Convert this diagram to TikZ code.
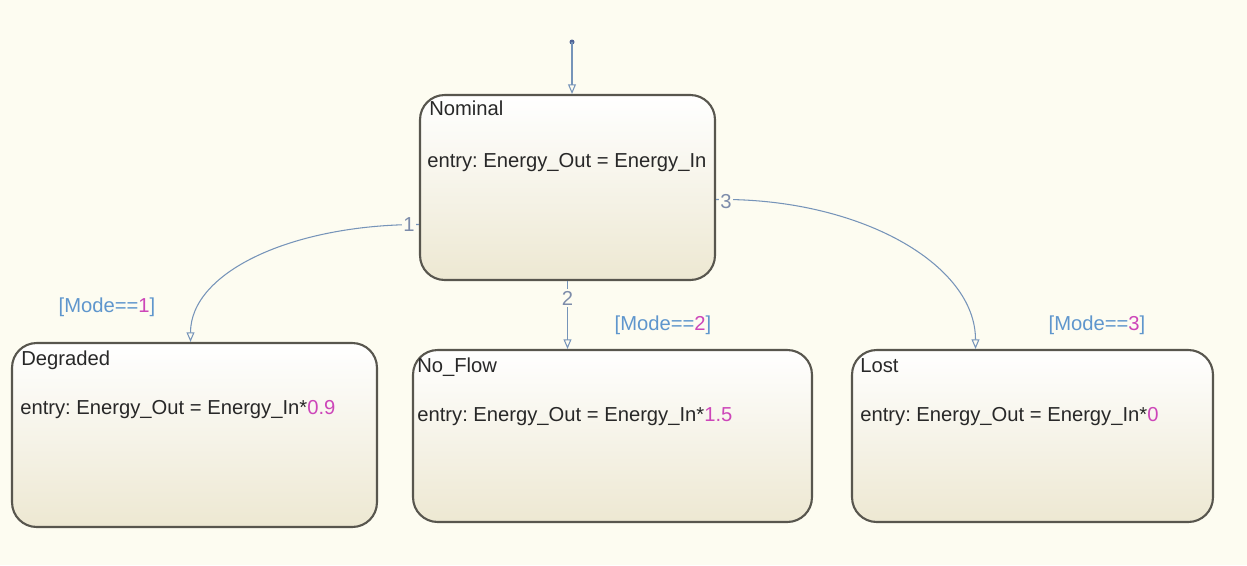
\documentclass[tikz,border=0pt]{standalone}
\usepackage{fontspec}
\setmainfont{Liberation Sans}
\usepackage{xcolor}
\usetikzlibrary{positioning,calc,arrows.meta}
\frenchspacing

\definecolor{bgcream}{RGB}{253,252,241}
\definecolor{stateedge}{RGB}{88,86,78}
\definecolor{statebot}{RGB}{237,232,210}
\definecolor{statetext}{RGB}{40,40,40}
\definecolor{transblue}{RGB}{118,148,185}
\definecolor{dotblue}{RGB}{80,100,150}
\definecolor{guardblue}{RGB}{95,150,205}
\definecolor{guardnum}{RGB}{205,70,185}
\definecolor{tnumgray}{RGB}{125,140,170}

\tikzset{
  state/.style = {draw=stateedge, line width=1.2pt, rounded corners=14pt,
    top color=white, bottom color=statebot, inner sep=0pt},
  stxt/.style = {anchor=base west, inner sep=0pt, text=statetext,
    font=\fontsize{11.5}{13}\selectfont},
  trans/.style = {draw=transblue, line width=0.6pt,
    -{Triangle[open, length=5.5pt, width=4.5pt]}},
  tnum/.style = {text=tnumgray, fill=bgcream, inner sep=1pt,
    font=\fontsize{11.5}{13}\selectfont},
  guard/.style = {text=guardblue, inner sep=0pt,
    font=\fontsize{11.5}{13}\selectfont}
}
\newcommand{\guardtxt}[1]{[Mode==\textcolor{guardnum}{#1}]}

\begin{document}
\begin{tikzpicture}[x=0.02cm, y=-0.02cm]
	\fill[bgcream] (0,0) rectangle (1247,565);
	\useasboundingbox (0,0) rectangle (1247,565);

	% states
	\node[state, minimum width=5.9cm, minimum height=3.7cm] (nominal) at (567.5,187.5) {};
	\node[state, minimum width=7.3cm, minimum height=3.68cm] (degraded) at (194.5,435) {};
	\node[state, minimum width=7.98cm, minimum height=3.44cm] (noflow) at (612.5,436) {};
	\node[state, minimum width=7.22cm, minimum height=3.44cm] (lost) at (1032.5,436) {};

	% state names and entry actions
	\node[stxt] (nominal-name) at ($(nominal.north west)+(10,22)$) {Nominal};
	\node[stxt] (nominal-entry) at ($(nominal.north west)+(8,74)$) {entry: Energy\_Out = Energy\_In};
	\node[stxt] (degraded-name) at ($(degraded.north west)+(10,24)$) {Degraded};
	\node[stxt] (degraded-entry) at ($(degraded.north west)+(9,73)$) {entry: Energy\_Out = Energy\_In*\textcolor{guardnum}{0.9}};
	\node[stxt] (noflow-name) at ($(noflow.north west)+(5,24)$) {No\_Flow};
	\node[stxt] (noflow-entry) at ($(noflow.north west)+(5,73)$) {entry: Energy\_Out = Energy\_In*\textcolor{guardnum}{1.5}};
	\node[stxt] (lost-name) at ($(lost.north west)+(9,24)$) {Lost};
	\node[stxt] (lost-entry) at ($(lost.north west)+(9,73)$) {entry: Energy\_Out = Energy\_In*\textcolor{guardnum}{0}};

	% default transition
	\coordinate (start) at (572,42);
	\fill[dotblue] (start) circle (2.5);
	\draw[trans] (start) -- (start |- nominal.north);

	% transitions
	\coordinate (t1) at ($(nominal.west)+(0,37)$);
	\coordinate (t3) at ($(nominal.east)+(0,12)$);
	\draw[trans] (t1) .. controls +(-127,0) and +(0,-70) .. ($(degraded.north)+(-4,0)$);
	\draw[trans] (nominal.south) -- (nominal.south |- noflow.north);
	\draw[trans] (t3) .. controls +(143,-2) and +(0,-85) .. ($(lost.north)+(-57,0)$);

	\node[tnum] (n1) at ($(t1)+(-10,0)$) {1};
	\node[tnum] (n2) at ($(nominal.south)+(0,17)$) {2};
	\node[tnum] (n3) at ($(t3)+(10,2)$) {3};

	% guards
	\node[guard] (g1) at (107,307) {\guardtxt{1}};
	\node[guard] (g2) at (663,325) {\guardtxt{2}};
	\node[guard] (g3) at (1097,325) {\guardtxt{3}};
\end{tikzpicture}
\end{document}
